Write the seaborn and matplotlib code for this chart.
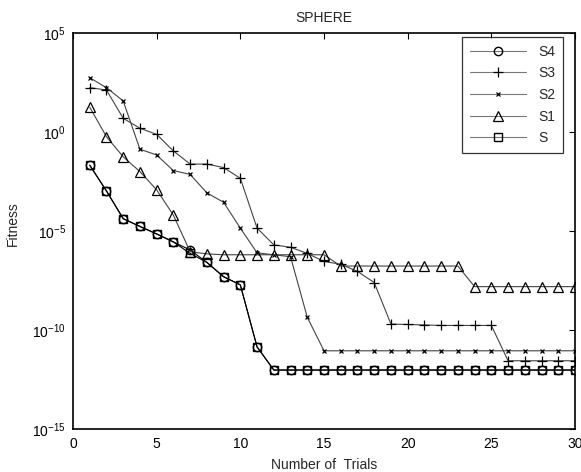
import matplotlib
matplotlib.use("Agg")
import matplotlib.pyplot as plt
import seaborn as sns
import pandas as pd
import numpy as np
from matplotlib.ticker import NullLocator

trials = list(range(1, 31))

S = [2.1e-2, 1.05e-3, 4.2e-5, 1.7e-5, 7.1e-6, 2.8e-6, 7.4e-7, 2.6e-7, 4.9e-8, 1.9e-8,
     1.4e-11, 9.5e-13, 9.5e-13, 9.5e-13, 9.5e-13, 9.5e-13, 9.5e-13, 9.5e-13, 9.5e-13, 9.5e-13,
     9.5e-13, 9.5e-13, 9.5e-13, 9.5e-13, 9.5e-13, 9.5e-13, 9.5e-13, 9.5e-13, 9.5e-13, 9.5e-13]
S4 = [2.1e-2, 1.05e-3, 4.2e-5, 1.7e-5, 7.1e-6, 2.8e-6, 1.1e-6, 2.6e-7, 4.9e-8, 1.9e-8,
      1.4e-11, 9.5e-13, 9.5e-13, 9.5e-13, 9.5e-13, 9.5e-13, 9.5e-13, 9.5e-13, 9.5e-13, 9.5e-13,
      9.5e-13, 9.5e-13, 9.5e-13, 9.5e-13, 9.5e-13, 9.5e-13, 9.5e-13, 9.5e-13, 9.5e-13, 9.5e-13]
S1 = [17.8, 0.58, 0.056, 0.01, 1.2e-3, 6.3e-5, 9.0e-7, 7.0e-7, 6.3e-7, 6.3e-7,
      6.3e-7, 6.3e-7, 6.3e-7, 6.3e-7, 6.3e-7, 1.7e-7, 1.7e-7, 1.7e-7, 1.7e-7, 1.7e-7,
      1.7e-7, 1.7e-7, 1.7e-7, 1.55e-8, 1.55e-8, 1.55e-8, 1.55e-8, 1.55e-8, 1.55e-8, 1.55e-8]
S2 = [550, 174, 37, 0.135, 0.069, 0.0112, 7.2e-3, 8.5e-4, 2.8e-4, 1.4e-5,
      7.9e-7, 6.3e-7, 5.0e-7, 4.4e-10, 8.9e-12, 8.9e-12, 8.9e-12, 8.9e-12, 8.9e-12, 8.9e-12,
      8.9e-12, 8.9e-12, 8.9e-12, 8.9e-12, 8.9e-12, 8.9e-12, 8.9e-12, 8.9e-12, 8.9e-12, 8.9e-12]
S3 = [174, 132, 4.9, 1.55, 0.76, 0.11, 0.024, 0.024, 0.016, 4.6e-3,
      1.4e-5, 2.0e-6, 1.5e-6, 7.4e-7, 2.9e-7, 2.1e-7, 9.1e-8, 2.5e-8, 2.0e-10, 1.9e-10,
      1.8e-10, 1.7e-10, 1.7e-10, 1.7e-10, 1.7e-10, 2.8e-12, 2.8e-12, 2.8e-12, 2.8e-12, 2.8e-12]

series_names = ["S4", "S3", "S2", "S1", "S"]
series_values = [S4, S3, S2, S1, S]
xticks = [0, 5, 10, 15, 20, 25, 30]
yticks = [1e-15, 1e-10, 1e-5, 1e0, 1e5]

sns.set_style("white")
plt.rcParams["font.family"] = ["Liberation Sans", "DejaVu Sans"]
plt.rcParams["mathtext.fontset"] = "custom"
plt.rcParams["mathtext.rm"] = "Liberation Sans"
plt.rcParams["mathtext.it"] = "Liberation Sans"
plt.rcParams["font.size"] = 10

df = pd.concat([pd.DataFrame({"Trial": trials, "Fitness": v, "Series": n})
                for n, v in zip(series_names, series_values)])

fig = plt.figure(figsize=(5.81, 4.72), dpi=100)
ax = fig.add_axes([73/581, 43/472, (575-73)/581, (429-33)/472])

styles = {
    "S4": dict(marker="o", color="black", ms=6, mfc="none", mec="black", mew=1.0),
    "S3": dict(marker="+", color="#444444", ms=6.5, mec="black", mew=0.9),
    "S2": dict(marker="x", color="#444444", ms=3.5, mec="black", mew=0.9),
    "S1": dict(marker="^", color="#444444", ms=7, mfc="none", mec="black", mew=0.9),
    "S":  dict(marker="s", color="black", ms=6, mfc="none", mec="black", mew=1.0),
}

for n in series_names:
    st = styles[n]
    sns.lineplot(data=df[df["Series"] == n], x="Trial", y="Fitness", ax=ax,
                 label=n, color=st["color"], marker=st["marker"], markersize=st["ms"],
                 markerfacecolor=st.get("mfc", st["mec"]), markeredgecolor=st["mec"],
                 markeredgewidth=st["mew"], linewidth=0.8, errorbar=None)

ax.set_yscale("log")
ax.set_xlim(0, 30)
ax.set_ylim(1e-15, 1e5)
ax.set_xticks(xticks)
ax.set_yticks(yticks)
ax.yaxis.set_minor_locator(NullLocator())
ax.tick_params(direction="in", top=True, right=True, length=4, width=0.8,
               labelsize=10, colors="black")
ax.tick_params(axis="x", pad=6)
ax.tick_params(axis="y", pad=5)
for sp in ax.spines.values():
    sp.set_visible(True)
    sp.set_color("black")
    sp.set_linewidth(1.2)

ax.set_title("SPHERE", fontsize=10, pad=8)
ax.set_xlabel("Number of  Trials", fontsize=10, labelpad=5)
ax.set_ylabel("Fitness", fontsize=10)
ax.yaxis.set_label_coords(-0.106, 0.518)

leg = ax.legend(loc="upper right", frameon=True, fancybox=False, fontsize=10,
                handlelength=4.0, borderpad=0.55, labelspacing=0.55, handletextpad=0.9,
                borderaxespad=0.0, bbox_to_anchor=(0.976, 0.99))
leg.get_frame().set_edgecolor("black")
leg.get_frame().set_linewidth(0.9)
for h in leg.get_lines():
    h.set_color("#777777")

fig.savefig("out.png", dpi=100)
